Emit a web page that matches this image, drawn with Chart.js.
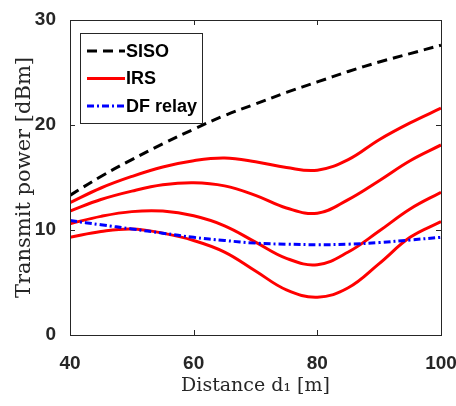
<!DOCTYPE html>
<html>
<head>
<meta charset="utf-8">
<script src="https://cdn.jsdelivr.net/npm/chart.js@4.4.1/dist/chart.umd.min.js"></script>
<style>
  html, body { margin: 0; padding: 0; background: #fff; }
  #wrap { width: 456px; height: 406px; }
</style>
</head>
<body>
<div id="wrap"><canvas id="powerChart" width="456" height="406"></canvas></div>
<script>
// distance d1 [m]
const distance = [40, 45, 50, 55, 60, 65, 70, 75, 80, 85, 90, 95, 100];

// transmit power [dBm]
const siso  = [13.3, 15.1, 16.7, 18.2, 19.6, 20.9, 22.0, 23.1, 24.1, 25.1, 26.0, 26.8, 27.6];
const irs1  = [12.6, 14.0, 15.1, 16.0, 16.6, 16.85, 16.5, 15.95, 15.7, 16.7, 18.6, 20.2, 21.6];
const irs2  = [11.8, 12.9, 13.7, 14.3, 14.5, 14.2, 13.3, 12.1, 11.6, 12.9, 14.7, 16.6, 18.1];
const irs3  = [10.6, 11.3, 11.75, 11.8, 11.35, 10.4, 8.85, 7.3, 6.7, 7.9, 9.9, 12.0, 13.6];
const irs4  = [9.3, 9.85, 10.1, 9.7, 9.0, 7.9, 6.1, 4.3, 3.6, 4.5, 6.8, 9.3, 10.8];
const relay = [10.9, 10.5, 10.1, 9.7, 9.3, 9.0, 8.75, 8.65, 8.6, 8.65, 8.8, 9.05, 9.3];

const xTicks = [40, 60, 80, 100];
const yTicks = [0, 10, 20, 30];

const legendItems = [
    { label: 'SISO', color: '#000000', dash: [10, 6] },
    { label: 'IRS', color: '#ff0000', dash: [] },
    { label: 'DF relay', color: '#0000ff', dash: [7, 3, 2, 3] }
];

const pts = ys => distance.map((d, i) => ({ x: d, y: ys[i] }));

function line(ys, color, dash, order) {
    return {
        data: pts(ys),
        borderColor: color,
        borderWidth: 3,
        borderDash: dash,
        pointRadius: 0,
        fill: false,
        tension: 0.4,
        order: order
    };
}

// box around the axes, inward ticks and the legend inside the plot
const matlabAxes = {
    id: 'matlabAxes',
    afterDatasetsDraw(chart) {
        const { ctx, chartArea: a, scales: { x, y } } = chart;
        ctx.save();
        ctx.strokeStyle = '#262626';
        ctx.lineWidth = 1;
        ctx.setLineDash([]);
        ctx.beginPath();
        xTicks.forEach(v => {
            const px = Math.round(x.getPixelForValue(v)) + 0.5;
            ctx.moveTo(px, a.bottom); ctx.lineTo(px, a.bottom - 5);
            ctx.moveTo(px, a.top); ctx.lineTo(px, a.top + 5);
        });
        yTicks.forEach(v => {
            const py = Math.round(y.getPixelForValue(v)) + 0.5;
            ctx.moveTo(a.left, py); ctx.lineTo(a.left + 5, py);
            ctx.moveTo(a.right, py); ctx.lineTo(a.right - 5, py);
        });
        ctx.stroke();
        ctx.strokeRect(Math.round(a.left) + 0.5, Math.round(a.top) + 0.5,
            Math.round(a.right - a.left), Math.round(a.bottom - a.top));

        // legend
        const lx = a.left + 10, ly = a.top + 13, lw = 122, lh = 90;
        ctx.fillStyle = '#ffffff';
        ctx.fillRect(lx, ly, lw, lh);
        ctx.strokeRect(lx + 0.5, ly + 0.5, lw, lh);
        ctx.font = 'bold 18px "Liberation Sans", Arial, sans-serif';
        ctx.textBaseline = 'middle';
        legendItems.forEach((it, i) => {
            const cy = ly + 18 + i * 27.5;
            ctx.strokeStyle = it.color;
            ctx.lineWidth = 3;
            ctx.setLineDash(it.dash);
            ctx.beginPath();
            ctx.moveTo(lx + 7, cy); ctx.lineTo(lx + 45, cy);
            ctx.stroke();
            ctx.fillStyle = '#000000';
            ctx.fillText(it.label, lx + 46, cy + 1);
        });
        ctx.restore();
    }
};

const ctx1 = document.getElementById('powerChart').getContext('2d');
const powerChart = new Chart(ctx1, {
    type: 'line',
    data: {
        datasets: [
            line(siso, '#000000', [10, 6], 3),
            line(irs1, '#ff0000', [], 2),
            line(irs2, '#ff0000', [], 2),
            line(irs3, '#ff0000', [], 2),
            line(irs4, '#ff0000', [], 2),
            line(relay, '#0000ff', [7, 3, 2, 3], 1)
        ]
    },
    options: {
        responsive: false,
        animation: false,
        devicePixelRatio: 1,
        layout: { padding: { top: 20, right: 15, left: 0, bottom: 0 } },
        plugins: {
            legend: { display: false },
            tooltip: { enabled: false }
        },
        scales: {
            x: {
                type: 'linear',
                min: 40, max: 100,
                afterBuildTicks: s => { s.ticks = xTicks.map(v => ({ value: v })); },
                afterFit: s => { s.height = 71; s.paddingLeft = 0; s.paddingRight = 0; },
                grid: { display: false },
                border: { display: false },
                ticks: {
                    padding: 9,
                    color: '#262626',
                    font: { family: '"Liberation Sans", Arial, sans-serif', size: 19, weight: 'bold' }
                },
                title: {
                    display: true,
                    text: 'Distance d₁ [m]',
                    color: '#262626',
                    padding: { top: 0, bottom: 9 },
                    font: { family: '"DejaVu Serif", serif', size: 19 }
                }
            },
            y: {
                min: 0, max: 30,
                afterBuildTicks: s => { s.ticks = yTicks.map(v => ({ value: v })); },
                afterFit: s => { s.width = 70; },
                grid: { display: false },
                border: { display: false },
                ticks: {
                    padding: 6,
                    color: '#262626',
                    font: { family: '"Liberation Sans", Arial, sans-serif', size: 19, weight: 'bold' }
                },
                title: {
                    display: true,
                    text: 'Transmit power [dBm]',
                    color: '#262626',
                    padding: { top: 12, bottom: 0 },
                    font: { family: '"DejaVu Serif", serif', size: 21 }
                }
            }
        }
    },
    plugins: [matlabAxes]
});
</script>
</body>
</html>
